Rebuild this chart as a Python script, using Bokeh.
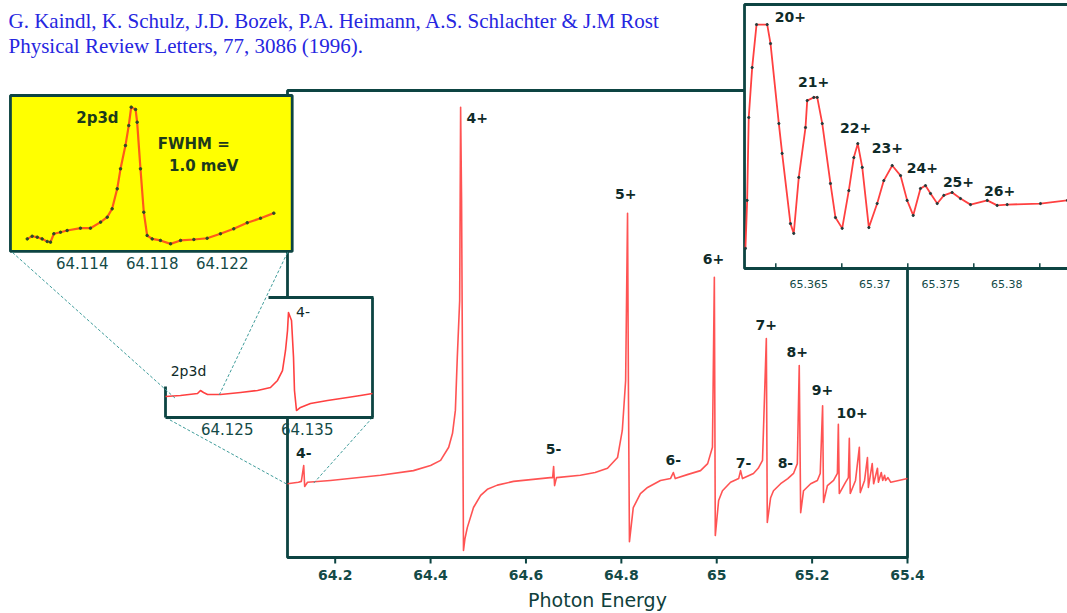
from bokeh.plotting import figure
from bokeh.models import Range1d
from bokeh.core.properties import value
from bokeh.embed import file_html
from bokeh.resources import INLINE

# ---------------- data ----------------
# main spectrum: photon energy (eV) vs. ion yield (arb. units)
main_energy = [64.100, 64.123, 64.129, 64.134, 64.136, 64.142, 64.190, 64.295, 64.364, 64.400,
               64.421, 64.438, 64.446, 64.452, 64.456, 64.461, 64.463, 64.465, 64.469, 64.472,
               64.477, 64.490, 64.505, 64.519, 64.540, 64.574, 64.651, 64.656, 64.658, 64.660,
               64.664, 64.714, 64.745, 64.771, 64.792, 64.802, 64.809, 64.813, 64.815, 64.817,
               64.825, 64.840, 64.855, 64.882, 64.903, 64.909, 64.913, 64.940, 64.966, 64.981,
               64.991, 64.995, 64.997, 65.004, 65.012, 65.029, 65.046, 65.050, 65.054, 65.077,
               65.087, 65.096, 65.104, 65.106, 65.113, 65.119, 65.134, 65.149, 65.161, 65.169,
               65.173, 65.176, 65.182, 65.197, 65.211, 65.217, 65.222, 65.224, 65.232, 65.245,
               65.253, 65.255, 65.257, 65.270, 65.276, 65.278, 65.280, 65.291, 65.299, 65.301,
               65.310, 65.316, 65.318, 65.326, 65.329, 65.337, 65.339, 65.345, 65.348, 65.352,
               65.354, 65.359, 65.365, 65.400]
main_signal = [15.8, 16.1, 16.3, 19.7, 15.2, 16.1, 16.5, 17.6, 18.6, 19.7,
               20.8, 23.6, 26.6, 31.5, 42.8, 55.0, 96.4, 76.4, 1.5, 4.0,
               6.4, 10.7, 13.3, 14.6, 15.5, 16.3, 17.1, 17.1, 19.5, 15.4,
               17.1, 17.6, 18.2, 19.1, 21.4, 27.2, 37.9, 73.7, 33.6, 3.4,
               10.7, 13.7, 15.0, 16.5, 16.9, 18.2, 16.9, 17.8, 18.6, 20.1,
               23.6, 60.0, 4.7, 12.2, 14.3, 16.1, 16.9, 18.6, 16.9, 18.0,
               19.1, 20.8, 46.9, 7.5, 12.8, 14.3, 15.8, 16.9, 18.0, 20.1,
               41.1, 9.6, 14.3, 15.8, 16.5, 18.0, 32.5, 11.8, 15.4, 16.5,
               18.0, 28.5, 13.7, 16.1, 17.1, 25.5, 13.7, 16.5, 23.6, 13.9,
               16.5, 21.4, 15.0, 20.1, 15.8, 19.1, 16.1, 18.2, 16.5, 17.6,
               16.5, 17.1, 16.1, 16.9]
main_ticks = [64.2, 64.4, 64.6, 64.8, 65.0, 65.2, 65.4]
main_tick_labels = ["64.2", "64.4", "64.6", "64.8", "65", "65.2", "65.4"]
peak_labels = ["4-", "4+", "5-", "5+", "6-", "6+", "7-", "7+", "8-", "8+", "9+", "10+"]
peak_label_energy = [64.134, 64.498, 64.658, 64.809, 64.909, 64.993, 65.056, 65.104, 65.144, 65.169, 65.222, 65.284]
peak_label_level = [22.3, 94.2, 23.3, 77.9, 20.8, 64.0, 20.3, 49.7, 20.3, 43.9, 35.8, 31.0]

# yellow inset: 2p3d resonance (high resolution)
yel_energy = [64.11086, 64.11114, 64.11143, 64.11171, 64.11200, 64.11219, 64.11238, 64.11276, 64.11314,
              64.11390, 64.11447, 64.11505, 64.11543, 64.11571, 64.11600, 64.11619, 64.11647, 64.11666,
              64.11680, 64.11705, 64.11714, 64.11733, 64.11752, 64.11771, 64.11800, 64.11847, 64.11905,
              64.11962, 64.12038, 64.12114, 64.12190, 64.12266, 64.12343, 64.12419, 64.12495]
yel_signal = [7.5, 9.2, 8.6, 7.5, 5.8, 5.4, 10.8, 11.8, 12.9, 14.4, 14.4, 18.3, 21.5, 26.9, 39.8, 52.7,
              67.7, 80.6, 92.5, 91.0, 82.8, 52.7, 24.7, 9.7, 7.5, 6.5, 4.3, 6.5, 7.1, 7.9, 10.8, 14.0,
              17.9, 20.8, 24.1]
yel_ticks = [64.114, 64.118, 64.122]
yel_tick_labels = ["64.114", "64.118", "64.122"]

# middle inset: 4- region
mid_energy = [64.11729, 64.11916, 64.12129, 64.12166, 64.12204, 64.12254, 64.12416, 64.12666, 64.12879,
              64.13041, 64.13129, 64.13191, 64.13229, 64.13254, 64.13266, 64.13304, 64.13329, 64.13341,
              64.13366, 64.13416, 64.13541, 64.13754, 64.14004, 64.14166, 64.14316]
mid_signal = [16.1, 16.9, 18.6, 21.2, 19.5, 17.8, 17.8, 19.5, 21.2, 23.7, 29.7, 38.1, 55.1, 72.0, 87.3,
              80.5, 49.2, 21.2, 4.2, 6.8, 10.2, 12.7, 15.3, 16.9, 18.6]
mid_ticks = [64.125, 64.135]
mid_tick_labels = ["64.125", "64.135"]

# top-right inset: series limit region (20+ ... 26+)
tr_energy = [65.36020, 65.36033, 65.36045, 65.36071, 65.36104, 65.36185, 65.36210, 65.36273, 65.36298,
             65.36361, 65.36386, 65.36424, 65.36475, 65.36488, 65.36538, 65.36564, 65.36602, 65.36664,
             65.36702, 65.36753, 65.36803, 65.36841, 65.36871, 65.36905, 65.36955, 65.37018, 65.37068,
             65.37132, 65.37195, 65.37245, 65.37291, 65.37346, 65.37384, 65.37422, 65.37473, 65.37523,
             65.37586, 65.37649, 65.37725, 65.37852, 65.37927, 65.38003, 65.38255, 65.38460]
tr_signal = [7.6, 25.8, 57.2, 76.1, 92.4, 92.4, 85.2, 54.9, 43.6, 17.0, 13.3, 34.5, 53.4, 63.6, 64.8,
             64.8, 54.9, 32.2, 19.3, 15.2, 29.5, 42.0, 47.3, 38.3, 15.5, 24.6, 33.3, 39.0, 35.2, 25.8,
             20.1, 30.3, 31.4, 28.4, 24.6, 27.7, 28.8, 26.5, 24.2, 25.8, 23.9, 24.2, 24.6, 25.8]
tr_ticks = [65.365, 65.37, 65.375, 65.38]
tr_tick_labels = ["65.365", "65.37", "65.375", "65.38"]
tr_minor_ticks = [65.3625, 65.3675, 65.3725, 65.3775, 65.3825]
tr_labels = ["20+", "21+", "22+", "23+", "24+", "25+", "26+"]
tr_label_energy = [65.36361, 65.36536, 65.36854, 65.37095, 65.37361, 65.37634, 65.37945]
tr_label_level = [95.1, 70.5, 53.4, 45.8, 37.9, 32.6, 29.5]

header_lines = ["G. Kaindl, K. Schulz, J.D. Bozek, P.A. Heimann, A.S. Schlachter & J.M Rost",
                "Physical Review Letters, 77, 3086 (1996)."]

# ---------------- layout ----------------
W, H = 1067, 613
FRAME = "#0d4442"
TICKC = "#134a47"
LABELC = "#0f2b29"
RED = "#ff4040"
ZOOMC = "#3f9c9a"
SANS = value("DejaVu Sans")


def xr(d0, d1, c0, c1):
    k = (d1 - d0) / (c1 - c0)
    return Range1d(start=d0 - c0 * k, end=d0 + (W - c0) * k)


def yr(d0, d1, c0, c1):
    k = (d1 - d0) / (c1 - c0)
    return Range1d(start=d0 + (H - c0) * k, end=d0 - c0 * k)


p = figure(width=W, height=H, x_range=Range1d(0, W), y_range=Range1d(H, 0),
           output_backend="svg", toolbar_location=None, x_axis_type=None, y_axis_type=None,
           min_border=0, outline_line_color=None, background_fill_color="white",
           border_fill_color="white")

p.extra_x_ranges = {
    "main": xr(64.1, 65.4, 287, 907),
    "yel": xr(64.114, 64.118, 81.7, 151.7),
    "mid": xr(64.125, 64.135, 226.7, 306.7),
    "tr": xr(65.365, 65.37, 808.3, 874.3),
}
p.extra_y_ranges = {
    "main": yr(0, 100, 557, 90),
    "yel": yr(0, 100, 250, 95),
    "mid": yr(0, 100, 415, 297),
    "tr": yr(0, 100, 268, 4),
}

# ---- main panel ----
p.quad(left=[64.1], right=[65.4], bottom=[0], top=[100], x_range_name="main", y_range_name="main",
       fill_color=None, line_color=FRAME, line_width=2.8)
p.line(main_energy, main_signal, x_range_name="main", y_range_name="main",
       line_color=RED, line_width=1.6, line_alpha=0.9, line_join="round")
n = len(main_ticks)
p.segment(x0=main_ticks, x1=main_ticks, y0=[557] * n, y1=[563] * n, x_range_name="main",
          line_color=FRAME, line_width=2)
p.text(x=main_ticks, y=[574] * n, text=main_tick_labels, x_range_name="main",
       text_font=SANS, text_font_size="14px", text_color=TICKC, text_align="center",
       text_baseline="middle", text_font_style="bold")
p.text(x=[64.75], y=[599], text=["Photon Energy"], x_range_name="main",
       text_font=SANS, text_font_size="19px", text_color="#0f3f3c", text_align="center",
       text_baseline="middle")
p.text(x=peak_label_energy, y=peak_label_level, text=peak_labels, x_range_name="main",
       y_range_name="main", text_font=SANS, text_font_size="14px", text_font_style="bold",
       text_color=LABELC, text_align="center", text_baseline="middle")

# zoom lines: middle inset -> 4- feature in main plot
p.segment(x0=[165, 372], y0=[417, 417], x1=[287, 312], y1=[484, 484],
          line_color=ZOOMC, line_width=1, line_dash="3 2")

# ---- yellow inset ----
p.quad(left=[64.1099], right=[64.1260], bottom=[-0.6], top=[100], x_range_name="yel",
       y_range_name="yel", fill_color="#ffff00", line_color=FRAME, line_width=2.8)
p.line(yel_energy, yel_signal, x_range_name="yel", y_range_name="yel",
       line_color="#ff5a1a", line_width=2.2, line_join="round")
p.scatter(yel_energy, yel_signal, x_range_name="yel", y_range_name="yel",
          size=2.5, color="#2a4a2a")
p.text(x=yel_ticks, y=[262] * 3, text=yel_tick_labels, x_range_name="yel",
       text_font=SANS, text_font_size="15px", text_color=TICKC, text_align="center",
       text_baseline="middle")
p.text(x=[64.11487], y=[85.2], text=["2p3d"], x_range_name="yel", y_range_name="yel",
       text_font=SANS, text_font_size="15px", text_font_style="bold", text_color="#1c3a1c",
       text_align="center", text_baseline="middle")
p.text(x=[64.12037, 64.12094], y=[69.0, 54.8], text=["FWHM =", "1.0 meV"], x_range_name="yel",
       y_range_name="yel", text_font=SANS, text_font_size="15px", text_font_style="bold",
       text_color="#1c3a1c", text_align="center", text_baseline="middle")

# ---- middle inset ----
p.quad(left=[163], right=[374], top=[296], bottom=[418], fill_color="white", line_color=None)
p.segment(x0=[268, 372, 165, 165], y0=[297, 297, 417, 386], x1=[373, 372, 373, 165],
          y1=[297, 417, 417, 417], line_color=FRAME, line_width=2.8)
p.line(mid_energy, mid_signal, x_range_name="mid", y_range_name="mid",
       line_color=RED, line_width=1.6, line_join="round")
p.text(x=mid_ticks, y=[428] * 2, text=mid_tick_labels, x_range_name="mid",
       text_font=SANS, text_font_size="15px", text_color=TICKC, text_align="center",
       text_baseline="middle")
p.text(x=[64.12016, 64.13448], y=[38.1, 87.3], text=["2p3d", "4-"], x_range_name="mid",
       y_range_name="mid", text_font=SANS, text_font_size="14px", text_color=LABELC,
       text_align="center", text_baseline="middle")

# zoom lines: yellow inset -> middle inset
p.segment(x0=[12, 287], y0=[252, 252], x1=[175, 218], y1=[398, 396],
          line_color=ZOOMC, line_width=1, line_dash="3 2")

# ---- top-right inset ----
p.quad(left=[65.36013], right=[65.3865], bottom=[0], top=[100], x_range_name="tr",
       y_range_name="tr", fill_color="white", line_color=FRAME, line_width=2.8)
p.line(tr_energy, tr_signal, x_range_name="tr", y_range_name="tr",
       line_color=RED, line_width=1.8, line_join="round")
p.scatter(tr_energy, tr_signal, x_range_name="tr", y_range_name="tr",
          size=2.2, color="#1e3a3a")
m = len(tr_minor_ticks)
p.segment(x0=tr_minor_ticks, x1=tr_minor_ticks, y0=[0] * m, y1=[2] * m, x_range_name="tr",
          y_range_name="tr", line_color=FRAME, line_width=1.5)
p.text(x=tr_ticks, y=[283] * 4, text=tr_tick_labels, x_range_name="tr",
       text_font=SANS, text_font_size="11px", text_color=TICKC, text_align="center",
       text_baseline="middle")
p.text(x=tr_label_energy, y=tr_label_level, text=tr_labels, x_range_name="tr",
       y_range_name="tr", text_font=SANS, text_font_size="14px", text_font_style="bold",
       text_color=LABELC, text_align="center", text_baseline="middle")

# ---- header ----
p.text(x=[8, 8], y=[20, 45], text=header_lines, text_font=value("Liberation Serif"),
       text_font_size="21px", text_color="#2626e0", text_align="left", text_baseline="middle")

open("out.html", "w").write(file_html(p, INLINE))
